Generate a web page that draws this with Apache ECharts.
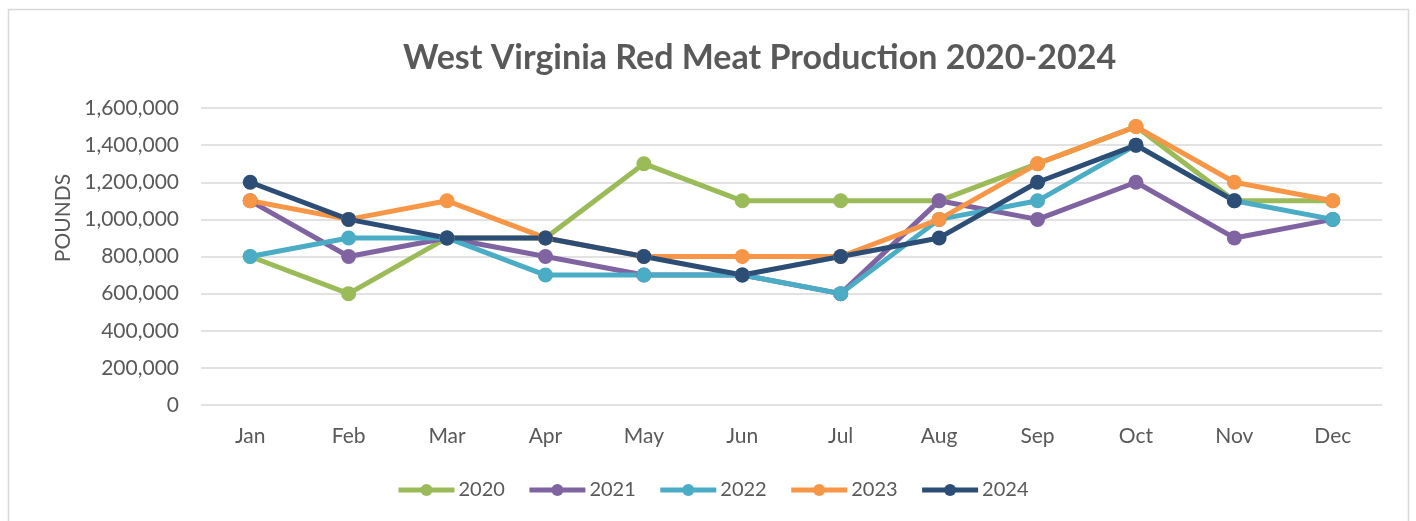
<!DOCTYPE html>
<html>
<head>
<meta charset="utf-8">
<script src="https://cdn.jsdelivr.net/npm/echarts@6/dist/echarts.min.js"></script>
<style>
  html, body { margin: 0; padding: 0; background: #fff; }
  #chart { width: 1416px; height: 521px; }
</style>
</head>
<body>
<div id="chart"></div>
<script>
const months = ['Jan', 'Feb', 'Mar', 'Apr', 'May', 'Jun', 'Jul', 'Aug', 'Sep', 'Oct', 'Nov', 'Dec'];
const years = ['2020', '2021', '2022', '2023', '2024'];
const prod2020 = [800000, 600000, 900000, 900000, 1300000, 1100000, 1100000, 1100000, 1300000, 1500000, 1100000, 1100000];
const prod2021 = [1100000, 800000, 900000, 800000, 700000, 700000, 600000, 1100000, 1000000, 1200000, 900000, 1000000];
const prod2022 = [800000, 900000, 900000, 700000, 700000, 700000, 600000, 1000000, 1100000, 1400000, 1100000, 1000000];
const prod2023 = [1100000, 1000000, 1100000, 900000, 800000, 800000, 800000, 1000000, 1300000, 1500000, 1200000, 1100000];
const prod2024 = [1200000, 1000000, 900000, 900000, 800000, 700000, 800000, 900000, 1200000, 1400000, 1100000, null];
const yTicks = [0, 200000, 400000, 600000, 800000, 1000000, 1200000, 1400000, 1600000];

const seriesData = [prod2020, prod2021, prod2022, prod2023, prod2024];
const colors = ['#9BBB59', '#8064A2', '#4BACC6', '#F79646', '#2C4D75'];
const font = 'Lato, "Open Sans", sans-serif';
const textGrey = '#595959';

const chart = echarts.init(document.getElementById('chart'));
chart.setOption({
    animation: false,
    color: colors,
    title: {
        text: 'West Virginia Red Meat Production 2020-2024',
        left: 398,
        top: 36,
        textStyle: { color: textGrey, fontSize: 34, fontWeight: 'bold', fontFamily: font }
    },
    graphic: [{
        type: 'rect',
        shape: { x: 8.5, y: 9.5, width: 1400, height: 530 },
        style: { fill: 'none', stroke: '#d9d9d9', lineWidth: 1.5 },
        silent: true
    }, {
        // axis title sits a bit above the plot centre in the original
        type: 'text',
        x: 63,
        y: 218,
        rotation: Math.PI / 2,
        style: {
            text: 'POUNDS', fill: textGrey, fontSize: 21, fontFamily: font,
            align: 'center', verticalAlign: 'middle'
        },
        silent: true
    }],
    grid: { left: 201, right: 34, top: 108, bottom: 116 },
    legend: {
        bottom: 16,
        left: 391,
        itemWidth: 56,
        itemHeight: 15,
        itemGap: 22,
        lineStyle: { width: 5 },
        textStyle: { color: textGrey, fontSize: 20, fontFamily: font, padding: [0, 0, 0, -1] },
        data: years
    },
    xAxis: {
        type: 'category',
        data: months,
        boundaryGap: true,
        axisLine: { show: false },
        axisTick: { show: false },
        axisLabel: { color: textGrey, fontSize: 21, fontFamily: font, margin: 21 }
    },
    yAxis: {
        type: 'value',
        min: yTicks[0],
        max: yTicks[yTicks.length - 1],
        interval: 200000,
        axisLine: { show: false },
        axisTick: { show: false },
        splitLine: { lineStyle: { color: '#d9d9d9', width: 1.5 } },
        axisLabel: {
            color: textGrey, fontSize: 21, fontFamily: font, margin: 22,
            formatter: v => v.toLocaleString('en-US')
        }
    },
    series: years.map((y, i) => ({
        name: y,
        type: 'line',
        data: seriesData[i],
        symbol: 'circle',
        symbolSize: 15,
        showAllSymbol: true,
        lineStyle: { width: 5, color: colors[i] },
        itemStyle: { color: colors[i] }
    }))
});
</script>
</body>
</html>
